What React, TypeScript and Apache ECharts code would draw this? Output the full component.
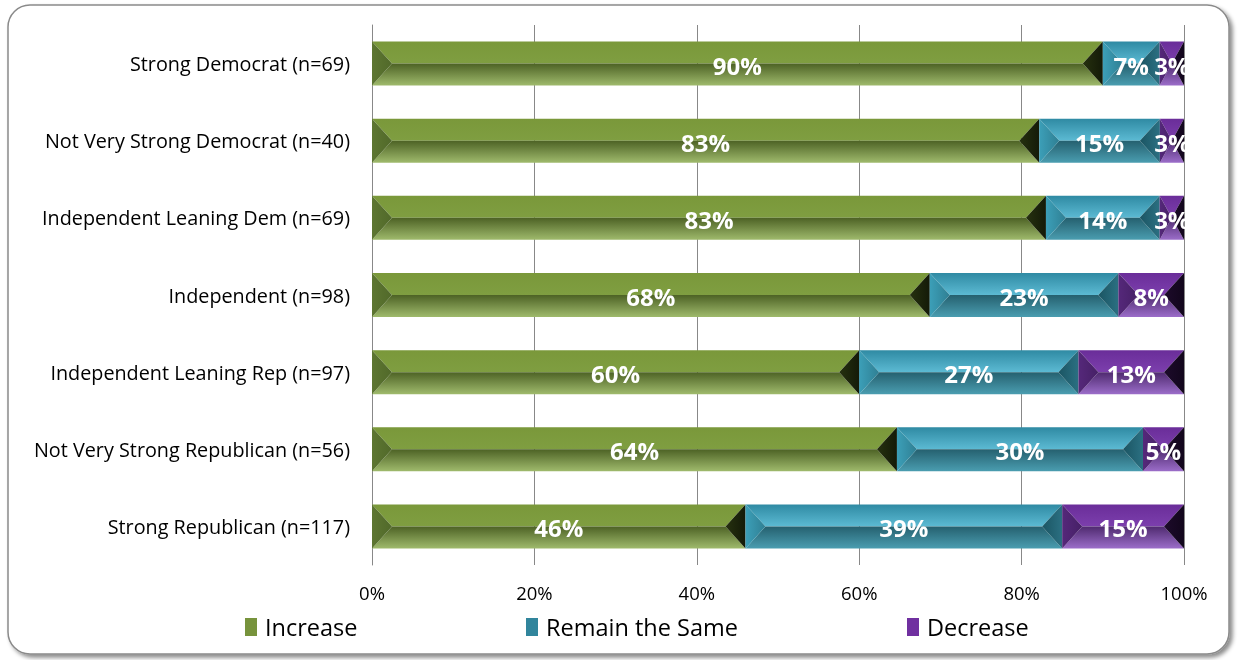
import React, { useEffect, useRef } from "react";
import * as echarts from "echarts";

const categories = [
  "Strong Democrat (n=69)",
  "Not Very Strong Democrat (n=40)",
  "Independent Leaning Dem (n=69)",
  "Independent (n=98)",
  "Independent Leaning Rep (n=97)",
  "Not Very Strong Republican (n=56)",
  "Strong Republican (n=117)",
];
const increase = [90, 83, 83, 68, 60, 64, 46];
const remain = [7, 15, 14, 23, 27, 30, 39];
const decrease = [3, 3, 3, 8, 13, 5, 15];
const seriesNames = ["Increase", "Remain the Same", "Decrease"];
const xTicks = [0, 20, 40, 60, 80, 100];

const FONT = '"Open Sans", "Noto Sans", sans-serif';

const lg = (c0: string, c1: string, x2 = 0, y2 = 1) =>
  new echarts.graphic.LinearGradient(0, 0, x2, y2, [
    { offset: 0, color: c0 },
    { offset: 1, color: c1 },
  ]);

const palettes = [
  {
    legend: "#77933c",
    top: ["#7a983a", "#7f9e41"],
    bottom: ["#4d6225", "#9fba6c"],
    left: ["#5d7631", "#51692a"],
    right: ["#26310f", "#141a08"],
  },
  {
    legend: "#31859c",
    top: ["#2f8aa3", "#5cbad3"],
    bottom: ["#25606f", "#4a9db0"],
    left: ["#3c9fb8", "#2f7f93"],
    right: ["#1b5563", "#2b7082"],
  },
  {
    legend: "#7030a0",
    top: ["#6a2d99", "#7c3fad"],
    bottom: ["#4f2a6f", "#9b6dc9"],
    left: ["#55287a", "#462066"],
    right: ["#1d0b2b", "#12061c"],
  },
];

const valueSets = [increase, remain, decrease];

function buildData(k: number) {
  return categories.map((_, i) => {
    const total = increase[i] + remain[i] + decrease[i];
    let start = 0;
    for (let j = 0; j < k; j++) start += (valueSets[j][i] / total) * 100;
    const end = start + (valueSets[k][i] / total) * 100;
    return [start, end, i, valueSets[k][i]];
  });
}

const makeRender = (k: number) => (params: any, api: any) => {
  const pal = palettes[k];
  const s = api.value(0);
  const e = api.value(1);
  const c = api.value(2);
  const v = api.value(3);
  const a = api.coord([s, c]);
  const b = api.coord([e, c]);
  const band = api.size([0, 1])[1];
  const h = band * 0.57;
  const x0 = a[0];
  const x1 = b[0];
  const ym = a[1];
  const y0 = ym - h / 2;
  const y1 = ym + h / 2;
  const d = Math.min(20, (x1 - x0) / 2);
  return {
    type: "group",
    children: [
      {
        type: "polygon",
        shape: { points: [[x0, y0], [x1, y0], [x1 - d, ym], [x0 + d, ym]] },
        style: { fill: lg(pal.top[0], pal.top[1]) },
      },
      {
        type: "polygon",
        shape: { points: [[x0 + d, ym], [x1 - d, ym], [x1, y1], [x0, y1]] },
        style: { fill: lg(pal.bottom[0], pal.bottom[1]) },
      },
      {
        type: "polygon",
        shape: { points: [[x0, y0], [x0 + d, ym], [x0, y1]] },
        style: { fill: lg(pal.left[0], pal.left[1], 1, 0) },
      },
      {
        type: "polygon",
        shape: { points: [[x1, y0], [x1 - d, ym], [x1, y1]] },
        style: { fill: lg(pal.right[0], pal.right[1], 1, 0) },
      },
      {
        type: "text",
        x: (x0 + x1) / 2,
        y: ym + 1.5,
        style: {
          text: v + "%",
          fill: "#ffffff",
          font: `bold 24px ${FONT}`,
          align: "center",
          verticalAlign: "middle",
        },
      },
    ],
  };
};

export default function App() {
  const ref = useRef<HTMLDivElement>(null);
  useEffect(() => {
    if (!ref.current) return;
    const chart = echarts.init(ref.current, undefined, { renderer: "svg" });
    const legendLefts = [240, 521, 902];
    chart.setOption({
      animation: false,
      backgroundColor: "transparent",
      graphic: [
        {
          type: "rect",
          z: -10,
          shape: { x: 8, y: 5, width: 1221, height: 649, r: 22 },
          style: {
            fill: "#ffffff",
            stroke: "#8a8a8a",
            lineWidth: 1.5,
            shadowBlur: 4,
            shadowOffsetX: 3,
            shadowOffsetY: 3,
            shadowColor: "rgba(0,0,0,0.45)",
          },
        },
      ],
      grid: { left: 372, right: 55, top: 25, bottom: 95, containLabel: false },
      xAxis: {
        type: "value",
        min: xTicks[0],
        max: xTicks[xTicks.length - 1],
        interval: xTicks[1] - xTicks[0],
        axisLine: { show: false },
        axisTick: { show: false },
        axisLabel: {
          formatter: "{value}%",
          fontSize: 18.5,
          color: "#000",
          fontFamily: FONT,
          margin: 18,
        },
        splitLine: { lineStyle: { color: "#888888", width: 1 } },
      },
      yAxis: {
        type: "category",
        data: categories,
        inverse: true,
        axisLine: { show: true, lineStyle: { color: "#888888", width: 1 } },
        axisTick: { show: false },
        axisLabel: { fontSize: 19.8, color: "#000", fontFamily: FONT, margin: 22 },
      },
      legend: seriesNames.map((n, k) => ({
        data: [n],
        left: legendLefts[k],
        top: 610,
        icon: "rect",
        itemWidth: 12,
        itemHeight: 18,
        textStyle: { fontSize: 23.5, color: "#000", fontFamily: FONT, padding: [0, 0, 0, 3] },
        selectedMode: false,
      })),
      series: seriesNames.map((n, k) => ({
        type: "custom",
        name: n,
        renderItem: makeRender(k),
        itemStyle: { color: palettes[k].legend },
        encode: { x: [0, 1], y: 2 },
        data: buildData(k),
      })),
    });
    return () => chart.dispose();
  }, []);
  return (
    <div
      ref={ref}
      style={{ position: "fixed", left: 0, top: 0, width: 1239, height: 660 }}
    />
  );
}
